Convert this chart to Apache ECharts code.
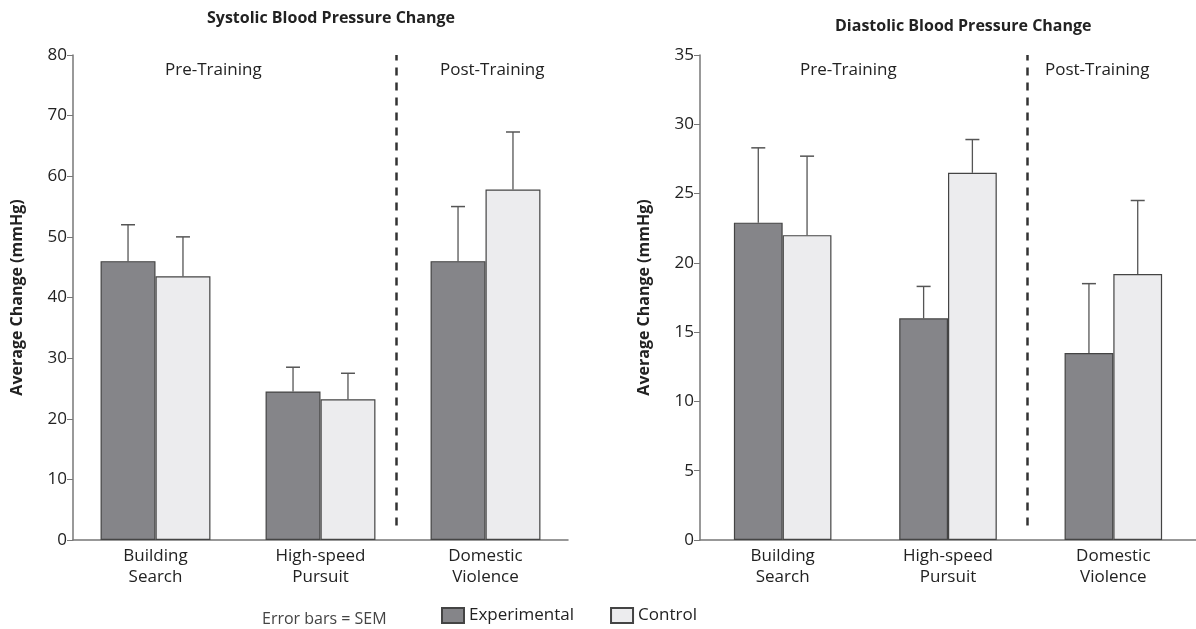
<!DOCTYPE html><html><head><meta charset="utf-8"><script src="https://cdn.jsdelivr.net/npm/echarts@6/dist/echarts.min.js"></script></head><body style="margin:0"><div id="c" style="width:1196px;height:629px"></div><script>
const categories=['Building\nSearch','High-speed\nPursuit','Domestic\nViolence'];
const sysExp=[46,24.5,46], sysExpTop=[52,28.5,55];
const sysCtl=[43.5,23.2,57.8], sysCtlTop=[50,27.5,67.3];
const diaExp=[22.9,16,13.5], diaExpTop=[28.3,18.3,18.5];
const diaCtl=[22,26.5,19.2], diaCtlTop=[27.7,28.9,24.5];
const font='"Open Sans", sans-serif';
function err(xi,yi,vals,tops,side,bw){
 return {type:'custom',xAxisIndex:xi,yAxisIndex:yi,z:1,silent:true,
  data:vals.map((v,i)=>[i,v,tops[i]]),
  renderItem:(p,api)=>{const c=api.coord([api.value(0),api.value(1)]);const t=api.coord([api.value(0),api.value(2)]);
   const band=api.coord([1,0])[0]-api.coord([0,0])[0];const x=c[0]+side*band*bw/2;
   return {type:'group',children:[{type:'line',shape:{x1:x,y1:c[1],x2:x,y2:t[1]},style:{stroke:'#555',lineWidth:1.3}},
    {type:'line',shape:{x1:x-7,y1:t[1],x2:x+7,y2:t[1]},style:{stroke:'#555',lineWidth:1.5}}]};}};
}
function bars(xi,yi,d,color,name,bw){return {type:'bar',name,xAxisIndex:xi,yAxisIndex:yi,data:d,barWidth:(bw*100)+'%',barGap:'0%',z:2,itemStyle:{color,borderColor:'#444',borderWidth:1.2}};}
function dash(xi,yi,pos,maxY){return {type:'line',xAxisIndex:xi,yAxisIndex:yi,data:[],markLine:{silent:true,symbol:'none',label:{show:false},lineStyle:{type:[8,7],color:'#333',width:2.5},data:[[{coord:[pos,maxY*0.03]},{coord:[pos,maxY]}]]}};}
const yl={fontSize:17,color:'#222',fontFamily:font,margin:6};
const xl={fontSize:17,color:'#222',fontFamily:font,lineHeight:21,margin:6};
const yname={fontSize:16,fontWeight:'bold',color:'#222',fontFamily:font};
const opt={animation:false,
 grid:[{left:73,width:495,top:55,bottom:89},{left:700,width:498,top:55,bottom:89}],
 xAxis:[
  {type:'category',gridIndex:0,data:categories,axisLine:{lineStyle:{color:'#777',width:1.5}},axisTick:{length:7,lineStyle:{color:'#777'}},axisLabel:xl},
  {type:'category',gridIndex:1,data:categories,axisLine:{lineStyle:{color:'#777',width:1.5}},axisTick:{length:7,lineStyle:{color:'#777'}},axisLabel:xl},
  {type:'value',gridIndex:0,min:0,max:3,show:false},
  {type:'value',gridIndex:1,min:0,max:3,show:false}],
 yAxis:[
  {type:'value',gridIndex:0,min:0,max:80,interval:10,splitLine:{show:false},axisLine:{show:true,lineStyle:{color:'#777',width:1.5}},axisTick:{show:true,length:6},axisLabel:yl,name:'Average Change (mmHg)',nameLocation:'middle',nameGap:48,nameTextStyle:yname},
  {type:'value',gridIndex:1,min:0,max:35,interval:5,splitLine:{show:false},axisLine:{show:true,lineStyle:{color:'#777',width:1.5}},axisTick:{show:true,length:6},axisLabel:yl,name:'Average Change (mmHg)',nameLocation:'middle',nameGap:48,nameTextStyle:yname}],
 legend:{bottom:0,left:436,itemGap:36,itemWidth:22,itemHeight:15,icon:'rect',textStyle:{fontSize:17,color:'#222',fontFamily:font},data:['Experimental','Control']},
 graphic:[
  {type:'text',left:207,top:10,style:{text:'Systolic Blood Pressure Change',font:'bold 16px '+font,fill:'#222'}},
  {type:'text',left:835,top:18,style:{text:'Diastolic Blood Pressure Change',font:'bold 16px '+font,fill:'#222'}},
  {type:'text',left:165,top:62,style:{text:'Pre-Training',font:'17px '+font,fill:'#222'}},
  {type:'text',left:440,top:62,style:{text:'Post-Training',font:'17px '+font,fill:'#222'}},
  {type:'text',left:800,top:62,style:{text:'Pre-Training',font:'17px '+font,fill:'#222'}},
  {type:'text',left:1045,top:62,style:{text:'Post-Training',font:'17px '+font,fill:'#222'}},
  {type:'text',left:262,bottom:2,style:{text:'Error bars = SEM',font:'16px '+font,fill:'#444'}}],
 series:[
  bars(0,0,sysExp,'#858589','Experimental',0.333),bars(0,0,sysCtl,'#ececee','Control',0.333),
  err(0,0,sysExp,sysExpTop,-1,0.333),err(0,0,sysCtl,sysCtlTop,1,0.333),
  bars(1,1,diaExp,'#858589','Experimental',0.295),bars(1,1,diaCtl,'#ececee','Control',0.295),
  err(1,1,diaExp,diaExpTop,-1,0.295),err(1,1,diaCtl,diaCtlTop,1,0.295),
  dash(2,0,1.96,80),dash(3,1,1.98,35)]};
echarts.init(document.getElementById('c')).setOption(opt);
</script></body></html>
